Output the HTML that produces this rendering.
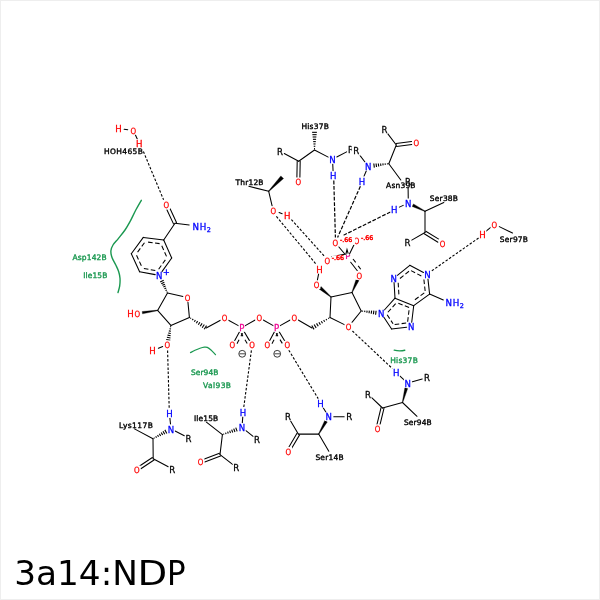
<!DOCTYPE html>
<html lang="en"><head><meta charset="utf-8"><title>3a14:NDP</title>
<style>
html,body{margin:0;padding:0;background:#fff;width:600px;height:600px;overflow:hidden}
svg{display:block;will-change:transform}
svg text{font-family:"DejaVu Sans", "Liberation Sans", sans-serif;white-space:pre}
</style></head><body>
<svg width="600" height="600" viewBox="0 0 600 600" font-family='"DejaVu Sans", "Liberation Sans", sans-serif'>
<rect x="0.5" y="0.5" width="599" height="599" fill="#fff" stroke="#eeeeee" stroke-width="1"/>
<g><path d="M141.3,200.3 C140.38,201.92 137.68,206.43 135.8,210 C133.92,213.57 131.8,218.37 130,221.7 C128.2,225.03 126.95,227.18 125,230 C123.05,232.82 120.3,236.1 118.3,238.6 C116.3,241.1 114.23,242.97 113,245 C111.77,247.03 111.07,248.72 110.9,250.8 C110.73,252.88 111.18,255.13 112,257.5 C112.82,259.87 114.68,262.63 115.8,265 C116.92,267.37 118,269.48 118.7,271.7 C119.4,273.92 119.83,275.95 120,278.3 C120.17,280.65 120.03,283.43 119.7,285.8 C119.37,288.17 118.28,291.38 118,292.5" fill="none" stroke="#1a9850" stroke-width="1.4" stroke-linecap="round"/>
<path d="M190.5,352.6 C191.25,352.22 193.42,351.02 195,350.3 C196.58,349.58 198.45,348.82 200,348.3 C201.55,347.78 203.08,347.35 204.3,347.2 C205.52,347.05 206.18,346.93 207.3,347.4 C208.42,347.87 209.63,348.78 211,350 C212.37,351.22 214.75,353.92 215.5,354.7" fill="none" stroke="#1a9850" stroke-width="1.2" stroke-linecap="round"/>
<path d="M394.2,350.1 Q399.6,351.6 404.8,350.2" fill="none" stroke="#1a9850" stroke-width="1.4" stroke-linecap="round"/></g>
<g><line x1="176.5" y1="222.5" x2="170" y2="208.54" stroke="#000000" stroke-width="1.05" stroke-linecap="round"/>
<line x1="173.5" y1="223.9" x2="167.01" y2="209.93" stroke="#000000" stroke-width="1.05" stroke-linecap="round"/>
<line x1="175" y1="223.2" x2="189.2" y2="225" stroke="#000000" stroke-width="1.05" stroke-linecap="round"/>
<line x1="175" y1="223.2" x2="163.7" y2="240" stroke="#000000" stroke-width="1.05" stroke-linecap="round"/>
<line x1="163.7" y1="240" x2="143.3" y2="237.4" stroke="#000000" stroke-width="1.05" stroke-linecap="round"/>
<line x1="159.61" y1="243.61" x2="146.35" y2="241.92" stroke="#000000" stroke-width="1.05" stroke-linecap="butt" stroke-dasharray="4.6,2.4"/>
<line x1="143.3" y1="237.4" x2="131.3" y2="253.7" stroke="#000000" stroke-width="1.05" stroke-linecap="round"/>
<line x1="144.47" y1="242.73" x2="136.74" y2="253.23" stroke="#000000" stroke-width="1.05" stroke-linecap="butt" stroke-dasharray="4.6,2.4"/>
<line x1="131.3" y1="253.7" x2="139.6" y2="271.8" stroke="#000000" stroke-width="1.05" stroke-linecap="round"/>
<line x1="136.53" y1="255.26" x2="141.83" y2="266.82" stroke="#000000" stroke-width="1.05" stroke-linecap="butt" stroke-dasharray="4.6,2.4"/>
<line x1="139.6" y1="271.8" x2="155.17" y2="274.64" stroke="#000000" stroke-width="1.05" stroke-linecap="round"/>
<line x1="143.88" y1="268.41" x2="155.91" y2="270.61" stroke="#000000" stroke-width="1.05" stroke-linecap="butt" stroke-dasharray="4.6,2.4"/>
<line x1="161.97" y1="271.65" x2="171.7" y2="258" stroke="#000000" stroke-width="1.05" stroke-linecap="round"/>
<line x1="158.63" y1="269.27" x2="166.27" y2="258.55" stroke="#000000" stroke-width="1.05" stroke-linecap="butt" stroke-dasharray="4.6,2.4"/>
<line x1="171.7" y1="258" x2="163.7" y2="240" stroke="#000000" stroke-width="1.05" stroke-linecap="round"/>
<line x1="166.49" y1="256.38" x2="161.42" y2="244.95" stroke="#000000" stroke-width="1.05" stroke-linecap="butt" stroke-dasharray="4.6,2.4"/>
<line x1="167.44" y1="291.8" x2="166.55" y2="292.22" stroke="#000000" stroke-width="1.1" stroke-linecap="butt"/>
<line x1="166.82" y1="289.89" x2="165.49" y2="290.5" stroke="#000000" stroke-width="1.1" stroke-linecap="butt"/>
<line x1="166.2" y1="287.97" x2="164.43" y2="288.79" stroke="#000000" stroke-width="1.1" stroke-linecap="butt"/>
<line x1="165.58" y1="286.05" x2="163.37" y2="287.08" stroke="#000000" stroke-width="1.1" stroke-linecap="butt"/>
<line x1="164.95" y1="284.13" x2="162.31" y2="285.36" stroke="#000000" stroke-width="1.1" stroke-linecap="butt"/>
<line x1="164.33" y1="282.22" x2="161.25" y2="283.65" stroke="#000000" stroke-width="1.1" stroke-linecap="butt"/>
<line x1="163.71" y1="280.3" x2="160.19" y2="281.93" stroke="#000000" stroke-width="1.1" stroke-linecap="butt"/>
<line x1="167.5" y1="293.1" x2="183.01" y2="296.51" stroke="#000000" stroke-width="1.05" stroke-linecap="round"/>
<line x1="187.94" y1="302.08" x2="189.4" y2="317.4" stroke="#000000" stroke-width="1.05" stroke-linecap="round"/>
<line x1="189.4" y1="317.4" x2="170.9" y2="325.4" stroke="#000000" stroke-width="1.05" stroke-linecap="round"/>
<line x1="170.9" y1="325.4" x2="157.6" y2="310.4" stroke="#000000" stroke-width="1.05" stroke-linecap="round"/>
<line x1="157.6" y1="310.4" x2="167.5" y2="293.1" stroke="#000000" stroke-width="1.05" stroke-linecap="round"/>
<polygon points="157.56,310.1 142.17,311.47 142.52,313.86 157.64,310.7" fill="#000" stroke="#000" stroke-width="0.3" stroke-linejoin="round"/>
<line x1="170.16" y1="326.62" x2="171.16" y2="326.8" stroke="#000000" stroke-width="1.1" stroke-linecap="butt"/>
<line x1="169.51" y1="328.75" x2="171.03" y2="329.03" stroke="#000000" stroke-width="1.1" stroke-linecap="butt"/>
<line x1="168.86" y1="330.89" x2="170.9" y2="331.25" stroke="#000000" stroke-width="1.1" stroke-linecap="butt"/>
<line x1="168.2" y1="333.02" x2="170.76" y2="333.48" stroke="#000000" stroke-width="1.1" stroke-linecap="butt"/>
<line x1="167.55" y1="335.15" x2="170.63" y2="335.71" stroke="#000000" stroke-width="1.1" stroke-linecap="butt"/>
<line x1="166.9" y1="337.29" x2="170.5" y2="337.94" stroke="#000000" stroke-width="1.1" stroke-linecap="butt"/>
<line x1="166.24" y1="339.42" x2="170.36" y2="340.17" stroke="#000000" stroke-width="1.1" stroke-linecap="butt"/>
<line x1="162.72" y1="346.57" x2="158.4" y2="348.21" stroke="#000000" stroke-width="1.05" stroke-linecap="round"/>
<line x1="190.4" y1="318.61" x2="190.92" y2="317.78" stroke="#000000" stroke-width="1.1" stroke-linecap="butt"/>
<line x1="192.37" y1="320.15" x2="193.15" y2="318.89" stroke="#000000" stroke-width="1.1" stroke-linecap="butt"/>
<line x1="194.34" y1="321.68" x2="195.38" y2="320.01" stroke="#000000" stroke-width="1.1" stroke-linecap="butt"/>
<line x1="196.3" y1="323.21" x2="197.62" y2="321.13" stroke="#000000" stroke-width="1.1" stroke-linecap="butt"/>
<line x1="198.27" y1="324.74" x2="199.85" y2="322.25" stroke="#000000" stroke-width="1.1" stroke-linecap="butt"/>
<line x1="200.24" y1="326.27" x2="202.08" y2="323.37" stroke="#000000" stroke-width="1.1" stroke-linecap="butt"/>
<line x1="202.21" y1="327.8" x2="204.31" y2="324.49" stroke="#000000" stroke-width="1.1" stroke-linecap="butt"/>
<line x1="204.18" y1="329.33" x2="206.54" y2="325.61" stroke="#000000" stroke-width="1.1" stroke-linecap="butt"/>
<line x1="206.2" y1="328" x2="220.46" y2="320.21" stroke="#000000" stroke-width="1.05" stroke-linecap="round"/>
<line x1="228.52" y1="320.23" x2="238.3" y2="325.66" stroke="#000000" stroke-width="1.05" stroke-linecap="round"/>
<line x1="239.8" y1="331.29" x2="234.49" y2="341.06" stroke="#000000" stroke-width="1.05" stroke-linecap="round"/>
<line x1="242.59" y1="333.26" x2="240.97" y2="336.25" stroke="#000000" stroke-width="1.05" stroke-linecap="butt"/>
<line x1="239.06" y1="339.77" x2="236.96" y2="343.64" stroke="#000000" stroke-width="1.05" stroke-linecap="butt"/>
<line x1="243.93" y1="331.22" x2="249.77" y2="341.14" stroke="#000000" stroke-width="1.05" stroke-linecap="round"/>
<line x1="241.2" y1="333.29" x2="242.93" y2="336.22" stroke="#000000" stroke-width="1.05" stroke-linecap="butt"/>
<line x1="244.96" y1="339.67" x2="247.19" y2="343.46" stroke="#000000" stroke-width="1.05" stroke-linecap="butt"/>
<line x1="245.28" y1="325.62" x2="255.2" y2="319.97" stroke="#000000" stroke-width="1.05" stroke-linecap="round"/>
<line x1="263.2" y1="319.96" x2="273.22" y2="325.63" stroke="#000000" stroke-width="1.05" stroke-linecap="round"/>
<line x1="274.71" y1="331.3" x2="269.48" y2="341.05" stroke="#000000" stroke-width="1.05" stroke-linecap="round"/>
<line x1="277.52" y1="333.26" x2="275.91" y2="336.26" stroke="#000000" stroke-width="1.05" stroke-linecap="butt"/>
<line x1="274.02" y1="339.78" x2="271.93" y2="343.66" stroke="#000000" stroke-width="1.05" stroke-linecap="butt"/>
<line x1="278.88" y1="331.19" x2="284.92" y2="341.17" stroke="#000000" stroke-width="1.05" stroke-linecap="round"/>
<line x1="276.18" y1="333.3" x2="277.94" y2="336.2" stroke="#000000" stroke-width="1.05" stroke-linecap="butt"/>
<line x1="280.01" y1="339.63" x2="282.29" y2="343.39" stroke="#000000" stroke-width="1.05" stroke-linecap="butt"/>
<line x1="280.18" y1="325.63" x2="290.2" y2="319.96" stroke="#000000" stroke-width="1.05" stroke-linecap="round"/>
<line x1="298.18" y1="320" x2="312" y2="328" stroke="#000000" stroke-width="1.05" stroke-linecap="round"/>
<line x1="328.4" y1="317.86" x2="328.9" y2="318.72" stroke="#000000" stroke-width="1.1" stroke-linecap="butt"/>
<line x1="326.03" y1="318.96" x2="326.77" y2="320.24" stroke="#000000" stroke-width="1.1" stroke-linecap="butt"/>
<line x1="323.65" y1="320.06" x2="324.65" y2="321.76" stroke="#000000" stroke-width="1.1" stroke-linecap="butt"/>
<line x1="321.28" y1="321.16" x2="322.52" y2="323.29" stroke="#000000" stroke-width="1.1" stroke-linecap="butt"/>
<line x1="318.91" y1="322.27" x2="320.39" y2="324.81" stroke="#000000" stroke-width="1.1" stroke-linecap="butt"/>
<line x1="316.54" y1="323.37" x2="318.26" y2="326.33" stroke="#000000" stroke-width="1.1" stroke-linecap="butt"/>
<line x1="314.16" y1="324.47" x2="316.14" y2="327.85" stroke="#000000" stroke-width="1.1" stroke-linecap="butt"/>
<line x1="311.79" y1="325.57" x2="314.01" y2="329.38" stroke="#000000" stroke-width="1.1" stroke-linecap="butt"/>
<line x1="330" y1="317.5" x2="331" y2="297" stroke="#000000" stroke-width="1.05" stroke-linecap="round"/>
<line x1="331" y1="297" x2="352" y2="292.5" stroke="#000000" stroke-width="1.05" stroke-linecap="round"/>
<line x1="352" y1="292.5" x2="361.2" y2="311" stroke="#000000" stroke-width="1.05" stroke-linecap="round"/>
<line x1="361.2" y1="311" x2="351.39" y2="323.12" stroke="#000000" stroke-width="1.05" stroke-linecap="round"/>
<line x1="344.38" y1="324.65" x2="330" y2="317.5" stroke="#000000" stroke-width="1.05" stroke-linecap="round"/>
<polygon points="331.19,296.77 321.04,286.46 318.98,288.89 330.81,297.23" fill="#000" stroke="#000" stroke-width="0.3" stroke-linejoin="round"/>
<line x1="317.38" y1="280.18" x2="318.62" y2="273.82" stroke="#000000" stroke-width="1.05" stroke-linecap="round"/>
<polygon points="352.27,292.62 359,280.45 356.11,279.18 351.73,292.38" fill="#000" stroke="#000" stroke-width="0.3" stroke-linejoin="round"/>
<line x1="350.7" y1="262.2" x2="357.3" y2="270.7" stroke="#000000" stroke-width="1.05" stroke-linecap="round"/>
<line x1="353" y1="259" x2="355.7" y2="262.4" stroke="#000000" stroke-width="1.05" stroke-linecap="butt"/>
<line x1="358.2" y1="265.9" x2="360.7" y2="269.3" stroke="#000000" stroke-width="1.05" stroke-linecap="butt"/>
<line x1="362.47" y1="311.66" x2="362.59" y2="310.66" stroke="#000000" stroke-width="1.1" stroke-linecap="butt"/>
<line x1="364.66" y1="312.18" x2="364.84" y2="310.66" stroke="#000000" stroke-width="1.1" stroke-linecap="butt"/>
<line x1="366.85" y1="312.71" x2="367.09" y2="310.67" stroke="#000000" stroke-width="1.1" stroke-linecap="butt"/>
<line x1="369.04" y1="313.23" x2="369.34" y2="310.68" stroke="#000000" stroke-width="1.1" stroke-linecap="butt"/>
<line x1="371.22" y1="313.75" x2="371.59" y2="310.69" stroke="#000000" stroke-width="1.1" stroke-linecap="butt"/>
<line x1="373.41" y1="314.27" x2="373.84" y2="310.69" stroke="#000000" stroke-width="1.1" stroke-linecap="butt"/>
<line x1="375.6" y1="314.8" x2="376.09" y2="310.7" stroke="#000000" stroke-width="1.1" stroke-linecap="butt"/>
<line x1="383.72" y1="317.07" x2="391.6" y2="329" stroke="#000000" stroke-width="1.05" stroke-linecap="round"/>
<line x1="387.15" y1="314.81" x2="393.04" y2="323.74" stroke="#000000" stroke-width="1.05" stroke-linecap="butt" stroke-dasharray="4.6,2.4"/>
<line x1="391.6" y1="329" x2="406.63" y2="327.16" stroke="#000000" stroke-width="1.05" stroke-linecap="round"/>
<line x1="394.67" y1="324.49" x2="406.14" y2="323.09" stroke="#000000" stroke-width="1.05" stroke-linecap="butt" stroke-dasharray="4.6,2.4"/>
<line x1="411.72" y1="322.23" x2="413.7" y2="305.7" stroke="#000000" stroke-width="1.05" stroke-linecap="round"/>
<line x1="407.65" y1="321.74" x2="409.2" y2="308.79" stroke="#000000" stroke-width="1.05" stroke-linecap="butt" stroke-dasharray="4.6,2.4"/>
<line x1="413.7" y1="305.7" x2="395" y2="298.2" stroke="#000000" stroke-width="1.05" stroke-linecap="round"/>
<line x1="409.09" y1="307.52" x2="397.08" y2="302.7" stroke="#000000" stroke-width="1.05" stroke-linecap="butt" stroke-dasharray="4.6,2.4"/>
<line x1="395" y1="298.2" x2="384.38" y2="309.98" stroke="#000000" stroke-width="1.05" stroke-linecap="round"/>
<line x1="395.64" y1="303.62" x2="387.43" y2="312.73" stroke="#000000" stroke-width="1.05" stroke-linecap="butt" stroke-dasharray="4.6,2.4"/>
<line x1="395" y1="298.2" x2="394.06" y2="282.59" stroke="#000000" stroke-width="1.05" stroke-linecap="round"/>
<line x1="398.88" y1="294.36" x2="398.16" y2="282.35" stroke="#000000" stroke-width="1.05" stroke-linecap="butt" stroke-dasharray="4.6,2.4"/>
<line x1="397.38" y1="275.31" x2="409.8" y2="265.3" stroke="#000000" stroke-width="1.05" stroke-linecap="round"/>
<line x1="399.95" y1="278.5" x2="409.57" y2="270.75" stroke="#000000" stroke-width="1.05" stroke-linecap="butt" stroke-dasharray="4.6,2.4"/>
<line x1="409.8" y1="265.3" x2="423.44" y2="272.54" stroke="#000000" stroke-width="1.05" stroke-linecap="round"/>
<line x1="411.06" y1="270.61" x2="421.51" y2="276.16" stroke="#000000" stroke-width="1.05" stroke-linecap="butt" stroke-dasharray="4.6,2.4"/>
<line x1="427.97" y1="279.07" x2="429.6" y2="294.1" stroke="#000000" stroke-width="1.05" stroke-linecap="round"/>
<line x1="423.9" y1="279.52" x2="425.14" y2="290.96" stroke="#000000" stroke-width="1.05" stroke-linecap="butt" stroke-dasharray="4.6,2.4"/>
<line x1="429.6" y1="294.1" x2="413.7" y2="305.7" stroke="#000000" stroke-width="1.05" stroke-linecap="round"/>
<line x1="424.28" y1="292.91" x2="414.19" y2="300.27" stroke="#000000" stroke-width="1.05" stroke-linecap="butt" stroke-dasharray="4.6,2.4"/>
<line x1="429.6" y1="294.1" x2="443.34" y2="299.9" stroke="#000000" stroke-width="1.05" stroke-linecap="round"/>
<line x1="124.15" y1="129.25" x2="127.75" y2="129.75" stroke="#000000" stroke-width="1.05" stroke-linecap="round"/>
<line x1="134.74" y1="133.58" x2="137.6" y2="139.68" stroke="#000000" stroke-width="1.05" stroke-linecap="round"/>
<line x1="169.88" y1="418.17" x2="170.52" y2="424.23" stroke="#000000" stroke-width="1.05" stroke-linecap="round"/>
<line x1="154.41" y1="438.5" x2="153.93" y2="437.62" stroke="#000000" stroke-width="1.1" stroke-linecap="butt"/>
<line x1="156.48" y1="437.65" x2="155.75" y2="436.33" stroke="#000000" stroke-width="1.1" stroke-linecap="butt"/>
<line x1="158.55" y1="436.8" x2="157.57" y2="435.03" stroke="#000000" stroke-width="1.1" stroke-linecap="butt"/>
<line x1="160.61" y1="435.96" x2="159.39" y2="433.74" stroke="#000000" stroke-width="1.1" stroke-linecap="butt"/>
<line x1="162.68" y1="435.11" x2="161.22" y2="432.45" stroke="#000000" stroke-width="1.1" stroke-linecap="butt"/>
<line x1="164.75" y1="434.26" x2="163.04" y2="431.15" stroke="#000000" stroke-width="1.1" stroke-linecap="butt"/>
<line x1="166.82" y1="433.41" x2="164.86" y2="429.86" stroke="#000000" stroke-width="1.1" stroke-linecap="butt"/>
<line x1="175.08" y1="430.93" x2="184.32" y2="435.77" stroke="#000000" stroke-width="1.05" stroke-linecap="round"/>
<line x1="134.5" y1="428.9" x2="153" y2="438.7" stroke="#000000" stroke-width="1.05" stroke-linecap="round"/>
<line x1="153" y1="438.7" x2="153.2" y2="458.7" stroke="#000000" stroke-width="1.05" stroke-linecap="round"/>
<line x1="152.37" y1="457.45" x2="139.2" y2="466.23" stroke="#000000" stroke-width="1.05" stroke-linecap="round"/>
<line x1="154.03" y1="459.95" x2="140.86" y2="468.73" stroke="#000000" stroke-width="1.05" stroke-linecap="round"/>
<line x1="153.2" y1="458.7" x2="168.25" y2="466.82" stroke="#000000" stroke-width="1.05" stroke-linecap="round"/>
<line x1="242.77" y1="416.89" x2="242.33" y2="422.91" stroke="#000000" stroke-width="1.05" stroke-linecap="round"/>
<line x1="223.85" y1="434.61" x2="223.51" y2="433.66" stroke="#000000" stroke-width="1.1" stroke-linecap="butt"/>
<line x1="226.06" y1="434.08" x2="225.55" y2="432.65" stroke="#000000" stroke-width="1.1" stroke-linecap="butt"/>
<line x1="228.28" y1="433.55" x2="227.59" y2="431.64" stroke="#000000" stroke-width="1.1" stroke-linecap="butt"/>
<line x1="230.49" y1="433.02" x2="229.63" y2="430.63" stroke="#000000" stroke-width="1.1" stroke-linecap="butt"/>
<line x1="232.71" y1="432.49" x2="231.67" y2="429.62" stroke="#000000" stroke-width="1.1" stroke-linecap="butt"/>
<line x1="234.93" y1="431.96" x2="233.71" y2="428.61" stroke="#000000" stroke-width="1.1" stroke-linecap="butt"/>
<line x1="237.14" y1="431.42" x2="235.75" y2="427.6" stroke="#000000" stroke-width="1.1" stroke-linecap="butt"/>
<line x1="245.6" y1="430.36" x2="253.4" y2="436.54" stroke="#000000" stroke-width="1.05" stroke-linecap="round"/>
<line x1="206.4" y1="422.2" x2="222.4" y2="434.6" stroke="#000000" stroke-width="1.05" stroke-linecap="round"/>
<line x1="222.4" y1="434.6" x2="220" y2="454.6" stroke="#000000" stroke-width="1.05" stroke-linecap="round"/>
<line x1="219.47" y1="453.2" x2="203.71" y2="459.18" stroke="#000000" stroke-width="1.05" stroke-linecap="round"/>
<line x1="220.53" y1="456" x2="204.77" y2="461.98" stroke="#000000" stroke-width="1.05" stroke-linecap="round"/>
<line x1="220" y1="454.6" x2="232.58" y2="464.46" stroke="#000000" stroke-width="1.05" stroke-linecap="round"/>
<line x1="323.07" y1="407.51" x2="326.13" y2="412.59" stroke="#000000" stroke-width="1.05" stroke-linecap="round"/>
<polygon points="318.96,434.25 327.32,421.95 324.74,420.49 318.44,433.95" fill="#000" stroke="#000" stroke-width="0.3" stroke-linejoin="round"/>
<line x1="333.8" y1="416.7" x2="344.2" y2="416.7" stroke="#000000" stroke-width="1.05" stroke-linecap="round"/>
<line x1="318.7" y1="434.1" x2="298.3" y2="434.1" stroke="#000000" stroke-width="1.05" stroke-linecap="round"/>
<line x1="318.7" y1="434.1" x2="328.8" y2="451.3" stroke="#000000" stroke-width="1.05" stroke-linecap="round"/>
<line x1="297.01" y1="433.34" x2="288.94" y2="446.99" stroke="#000000" stroke-width="1.05" stroke-linecap="round"/>
<line x1="299.59" y1="434.86" x2="291.53" y2="448.52" stroke="#000000" stroke-width="1.05" stroke-linecap="round"/>
<line x1="298.3" y1="434.1" x2="290.33" y2="420.56" stroke="#000000" stroke-width="1.05" stroke-linecap="round"/>
<line x1="399.7" y1="375.78" x2="404.1" y2="379.92" stroke="#000000" stroke-width="1.05" stroke-linecap="round"/>
<polygon points="402.79,402.58 407.7,388.61 404.84,387.85 402.21,402.42" fill="#000" stroke="#000" stroke-width="0.3" stroke-linejoin="round"/>
<line x1="412.4" y1="381.81" x2="422.2" y2="378.99" stroke="#000000" stroke-width="1.05" stroke-linecap="round"/>
<line x1="402.5" y1="402.5" x2="382.5" y2="408" stroke="#000000" stroke-width="1.05" stroke-linecap="round"/>
<line x1="402.5" y1="402.5" x2="417" y2="416.3" stroke="#000000" stroke-width="1.05" stroke-linecap="round"/>
<line x1="381.04" y1="407.65" x2="376.98" y2="424.46" stroke="#000000" stroke-width="1.05" stroke-linecap="round"/>
<line x1="383.96" y1="408.35" x2="379.9" y2="425.16" stroke="#000000" stroke-width="1.05" stroke-linecap="round"/>
<line x1="382.5" y1="408" x2="371.41" y2="397.29" stroke="#000000" stroke-width="1.05" stroke-linecap="round"/>
<line x1="315.01" y1="148.6" x2="313.99" y2="148.6" stroke="#000000" stroke-width="1.1" stroke-linecap="butt"/>
<line x1="315.28" y1="146.28" x2="313.72" y2="146.28" stroke="#000000" stroke-width="1.1" stroke-linecap="butt"/>
<line x1="315.55" y1="143.96" x2="313.45" y2="143.96" stroke="#000000" stroke-width="1.1" stroke-linecap="butt"/>
<line x1="315.82" y1="141.63" x2="313.18" y2="141.63" stroke="#000000" stroke-width="1.1" stroke-linecap="butt"/>
<line x1="316.09" y1="139.31" x2="312.91" y2="139.31" stroke="#000000" stroke-width="1.1" stroke-linecap="butt"/>
<line x1="316.36" y1="136.98" x2="312.64" y2="136.98" stroke="#000000" stroke-width="1.1" stroke-linecap="butt"/>
<line x1="316.62" y1="134.66" x2="312.38" y2="134.66" stroke="#000000" stroke-width="1.1" stroke-linecap="butt"/>
<line x1="316.89" y1="132.33" x2="312.11" y2="132.33" stroke="#000000" stroke-width="1.1" stroke-linecap="butt"/>
<line x1="314.5" y1="150" x2="328.24" y2="157.1" stroke="#000000" stroke-width="1.05" stroke-linecap="round"/>
<line x1="332.74" y1="164.09" x2="333.06" y2="170.81" stroke="#000000" stroke-width="1.05" stroke-linecap="round"/>
<line x1="336.75" y1="157.06" x2="346.65" y2="151.84" stroke="#000000" stroke-width="1.05" stroke-linecap="round"/>
<line x1="314.5" y1="150" x2="298.7" y2="161.3" stroke="#000000" stroke-width="1.05" stroke-linecap="round"/>
<line x1="297.2" y1="161.27" x2="296.89" y2="177.37" stroke="#000000" stroke-width="1.05" stroke-linecap="round"/>
<line x1="300.2" y1="161.33" x2="299.89" y2="177.43" stroke="#000000" stroke-width="1.05" stroke-linecap="round"/>
<line x1="298.7" y1="161.3" x2="284.23" y2="153.56" stroke="#000000" stroke-width="1.05" stroke-linecap="round"/>
<line x1="358.97" y1="154.07" x2="365.31" y2="162.47" stroke="#000000" stroke-width="1.05" stroke-linecap="round"/>
<line x1="366.34" y1="170.72" x2="363.96" y2="176.38" stroke="#000000" stroke-width="1.05" stroke-linecap="round"/>
<line x1="387.4" y1="163.37" x2="387.52" y2="164.37" stroke="#000000" stroke-width="1.1" stroke-linecap="butt"/>
<line x1="385.13" y1="163.4" x2="385.32" y2="164.9" stroke="#000000" stroke-width="1.1" stroke-linecap="butt"/>
<line x1="382.86" y1="163.43" x2="383.12" y2="165.44" stroke="#000000" stroke-width="1.1" stroke-linecap="butt"/>
<line x1="380.6" y1="163.46" x2="380.92" y2="165.97" stroke="#000000" stroke-width="1.1" stroke-linecap="butt"/>
<line x1="378.33" y1="163.49" x2="378.71" y2="166.51" stroke="#000000" stroke-width="1.1" stroke-linecap="butt"/>
<line x1="376.07" y1="163.52" x2="376.51" y2="167.04" stroke="#000000" stroke-width="1.1" stroke-linecap="butt"/>
<line x1="373.8" y1="163.54" x2="374.31" y2="167.58" stroke="#000000" stroke-width="1.1" stroke-linecap="butt"/>
<line x1="388.8" y1="163.7" x2="396.3" y2="145" stroke="#000000" stroke-width="1.05" stroke-linecap="round"/>
<line x1="396.49" y1="146.49" x2="411.92" y2="144.56" stroke="#000000" stroke-width="1.05" stroke-linecap="round"/>
<line x1="396.11" y1="143.51" x2="411.55" y2="141.58" stroke="#000000" stroke-width="1.05" stroke-linecap="round"/>
<line x1="396.3" y1="145" x2="387.29" y2="133.16" stroke="#000000" stroke-width="1.05" stroke-linecap="round"/>
<line x1="388.8" y1="163.7" x2="400.8" y2="180" stroke="#000000" stroke-width="1.05" stroke-linecap="round"/>
<line x1="408.1" y1="187.9" x2="408.24" y2="198.2" stroke="#000000" stroke-width="1.05" stroke-linecap="round"/>
<line x1="403.22" y1="205.36" x2="399.38" y2="207.14" stroke="#000000" stroke-width="1.05" stroke-linecap="round"/>
<polygon points="425.13,210.93 413.43,203.89 412.14,206.52 424.87,211.47" fill="#000" stroke="#000" stroke-width="0.3" stroke-linejoin="round"/>
<line x1="425" y1="211.2" x2="443.8" y2="202.5" stroke="#000000" stroke-width="1.05" stroke-linecap="round"/>
<line x1="425" y1="211.2" x2="425" y2="232.5" stroke="#000000" stroke-width="1.05" stroke-linecap="round"/>
<line x1="424.22" y1="233.78" x2="437.96" y2="242.18" stroke="#000000" stroke-width="1.05" stroke-linecap="round"/>
<line x1="425.78" y1="231.22" x2="439.53" y2="239.63" stroke="#000000" stroke-width="1.05" stroke-linecap="round"/>
<line x1="425" y1="232.5" x2="411.76" y2="240.11" stroke="#000000" stroke-width="1.05" stroke-linecap="round"/>
<line x1="248.8" y1="186.3" x2="268.7" y2="191.3" stroke="#000000" stroke-width="1.05" stroke-linecap="round"/>
<polygon points="268.92,191.51 283.57,178.51 280.83,175.89 268.48,191.09" fill="#000" stroke="#000" stroke-width="0.3" stroke-linejoin="round"/>
<line x1="268.7" y1="191.3" x2="272.11" y2="205.93" stroke="#000000" stroke-width="1.05" stroke-linecap="round"/>
<line x1="279.07" y1="212.6" x2="282.19" y2="213.66" stroke="#000000" stroke-width="1.05" stroke-linecap="round"/>
<line x1="486.15" y1="231.08" x2="490.69" y2="227.35" stroke="#000000" stroke-width="1.05" stroke-linecap="round"/>
<line x1="499.27" y1="226.64" x2="512.5" y2="233" stroke="#000000" stroke-width="1.05" stroke-linecap="round"/></g>
<g><line x1="143.4" y1="151.5" x2="163.6" y2="199.8" stroke="#000000" stroke-width="1.1" stroke-linecap="butt" stroke-dasharray="2.5,1.7"/>
<line x1="167.6" y1="350.6" x2="169.2" y2="408.4" stroke="#000000" stroke-width="1.1" stroke-linecap="butt" stroke-dasharray="2.5,1.7"/>
<line x1="251.4" y1="350.4" x2="243.8" y2="407" stroke="#000000" stroke-width="1.1" stroke-linecap="butt" stroke-dasharray="2.5,1.7"/>
<line x1="288.8" y1="350.2" x2="318.2" y2="398.6" stroke="#000000" stroke-width="1.1" stroke-linecap="butt" stroke-dasharray="2.5,1.7"/>
<line x1="352.4" y1="331" x2="392.4" y2="368.6" stroke="#000000" stroke-width="1.1" stroke-linecap="butt" stroke-dasharray="2.5,1.7"/>
<line x1="333.8" y1="180.6" x2="335.4" y2="237.4" stroke="#000000" stroke-width="1.2" stroke-linecap="butt" stroke-dasharray="3.8,1.6"/>
<line x1="360.4" y1="186.2" x2="337.6" y2="237.4" stroke="#000000" stroke-width="1.2" stroke-linecap="butt" stroke-dasharray="3.8,1.6"/>
<line x1="390.4" y1="212" x2="343.6" y2="235.2" stroke="#000000" stroke-width="1.2" stroke-linecap="butt" stroke-dasharray="3.8,1.6"/>
<line x1="276.4" y1="216.4" x2="316.6" y2="264.8" stroke="#000000" stroke-width="1.1" stroke-linecap="butt" stroke-dasharray="2.5,1.7"/>
<line x1="291.4" y1="219.6" x2="324.6" y2="256.4" stroke="#000000" stroke-width="1.1" stroke-linecap="butt" stroke-dasharray="2.5,1.7"/>
<line x1="478.6" y1="238" x2="431.8" y2="270.8" stroke="#000000" stroke-width="1.1" stroke-linecap="butt" stroke-dasharray="2.5,1.7"/></g>
<g><rect x="162.52" y="200.43" width="7.77" height="8.54" fill="#fff"/>
<text x="166.4" y="208.04" font-size="8.6" fill="#ff0000" stroke="#ff0000" stroke-width="0.27" text-anchor="middle" transform="translate(166.4 0) scale(0.83 1) translate(-166.4 0)">O</text>
<text x="192.6" y="230.3" font-size="8.7" fill="#0000ff" stroke="#0000ff" stroke-width="0.3" text-anchor="start" letter-spacing="0.6">NH<tspan font-size="6.5" dy="1.8">2</tspan></text>
<rect x="156.28" y="271.83" width="6.03" height="7.14" fill="#fff"/>
<text x="159.3" y="279.14" font-size="8.6" fill="#0000ff" stroke="#0000ff" stroke-width="0.27" text-anchor="middle">N</text>
<text x="163" y="275.4" font-size="8" fill="#0000ff" stroke="#0000ff" stroke-width="0.4" text-anchor="start" letter-spacing="0.3">+</text>
<rect x="183.62" y="293.23" width="7.77" height="8.54" fill="#fff"/>
<text x="187.5" y="300.84" font-size="8.6" fill="#ff0000" stroke="#ff0000" stroke-width="0.27" text-anchor="middle" transform="translate(187.5 0) scale(0.83 1) translate(-187.5 0)">O</text>
<rect x="133.92" y="309.53" width="6.97" height="7.74" fill="#fff"/>
<text x="137.4" y="316.74" font-size="8.6" fill="#ff0000" stroke="#ff0000" stroke-width="0.27" text-anchor="middle" transform="translate(137.4 0) scale(0.83 1) translate(-137.4 0)">O</text>
<rect x="126.67" y="309.13" width="7.47" height="8.54" fill="#fff"/>
<text x="130.4" y="317.14" font-size="8.6" fill="#ff0000" stroke="#ff0000" stroke-width="0.27" text-anchor="middle">H</text>
<rect x="163.52" y="340.53" width="7.77" height="8.54" fill="#fff"/>
<text x="167.4" y="348.14" font-size="8.6" fill="#ff0000" stroke="#ff0000" stroke-width="0.27" text-anchor="middle" transform="translate(167.4 0) scale(0.83 1) translate(-167.4 0)">O</text>
<rect x="148.87" y="346.13" width="7.47" height="8.54" fill="#fff"/>
<text x="152.6" y="354.14" font-size="8.6" fill="#ff0000" stroke="#ff0000" stroke-width="0.27" text-anchor="middle">H</text>
<rect x="220.62" y="313.73" width="7.77" height="8.54" fill="#fff"/>
<text x="224.5" y="321.34" font-size="8.6" fill="#ff0000" stroke="#ff0000" stroke-width="0.27" text-anchor="middle" transform="translate(224.5 0) scale(0.83 1) translate(-224.5 0)">O</text>
<rect x="238.71" y="323.33" width="6.19" height="8.54" fill="#fff"/>
<text x="241.8" y="331.34" font-size="8.6" fill="#ee0090" stroke="#ee0090" stroke-width="0.27" text-anchor="middle">P</text>
<rect x="228.42" y="340.83" width="7.77" height="8.54" fill="#fff"/>
<text x="232.3" y="348.44" font-size="8.6" fill="#ff0000" stroke="#ff0000" stroke-width="0.27" text-anchor="middle" transform="translate(232.3 0) scale(0.83 1) translate(-232.3 0)">O</text>
<rect x="248.22" y="340.83" width="7.77" height="8.54" fill="#fff"/>
<text x="252.1" y="348.44" font-size="8.6" fill="#ff0000" stroke="#ff0000" stroke-width="0.27" text-anchor="middle" transform="translate(252.1 0) scale(0.83 1) translate(-252.1 0)">O</text>
<rect x="255.32" y="313.43" width="7.77" height="8.54" fill="#fff"/>
<text x="259.2" y="321.04" font-size="8.6" fill="#ff0000" stroke="#ff0000" stroke-width="0.27" text-anchor="middle" transform="translate(259.2 0) scale(0.83 1) translate(-259.2 0)">O</text>
<rect x="273.61" y="323.33" width="6.19" height="8.54" fill="#fff"/>
<text x="276.7" y="331.34" font-size="8.6" fill="#ee0090" stroke="#ee0090" stroke-width="0.27" text-anchor="middle">P</text>
<rect x="263.42" y="340.83" width="7.77" height="8.54" fill="#fff"/>
<text x="267.3" y="348.44" font-size="8.6" fill="#ff0000" stroke="#ff0000" stroke-width="0.27" text-anchor="middle" transform="translate(267.3 0) scale(0.83 1) translate(-267.3 0)">O</text>
<rect x="283.42" y="340.83" width="7.77" height="8.54" fill="#fff"/>
<text x="287.3" y="348.44" font-size="8.6" fill="#ff0000" stroke="#ff0000" stroke-width="0.27" text-anchor="middle" transform="translate(287.3 0) scale(0.83 1) translate(-287.3 0)">O</text>
<rect x="290.32" y="313.43" width="7.77" height="8.54" fill="#fff"/>
<text x="294.2" y="321.04" font-size="8.6" fill="#ff0000" stroke="#ff0000" stroke-width="0.27" text-anchor="middle" transform="translate(294.2 0) scale(0.83 1) translate(-294.2 0)">O</text>
<rect x="344.62" y="322.43" width="7.77" height="8.54" fill="#fff"/>
<text x="348.5" y="330.04" font-size="8.6" fill="#ff0000" stroke="#ff0000" stroke-width="0.27" text-anchor="middle" transform="translate(348.5 0) scale(0.83 1) translate(-348.5 0)">O</text>
<rect x="312.62" y="280.43" width="7.77" height="8.54" fill="#fff"/>
<text x="316.5" y="288.04" font-size="8.6" fill="#ff0000" stroke="#ff0000" stroke-width="0.27" text-anchor="middle" transform="translate(316.5 0) scale(0.83 1) translate(-316.5 0)">O</text>
<rect x="315.77" y="265.03" width="7.47" height="8.54" fill="#fff"/>
<text x="319.5" y="273.04" font-size="8.6" fill="#ff0000" stroke="#ff0000" stroke-width="0.27" text-anchor="middle">H</text>
<rect x="355.52" y="271.33" width="7.77" height="8.54" fill="#fff"/>
<text x="359.4" y="278.94" font-size="8.6" fill="#ff0000" stroke="#ff0000" stroke-width="0.27" text-anchor="middle" transform="translate(359.4 0) scale(0.83 1) translate(-359.4 0)">O</text>
<circle cx="242.2" cy="353.8" r="3.4" fill="none" stroke="#3a3a3a" stroke-width="1"/>
<line x1="239.3" y1="353.8" x2="245.1" y2="353.8" stroke="#444" stroke-width="1" stroke-linecap="butt"/>
<circle cx="277.2" cy="353.8" r="3.4" fill="none" stroke="#3a3a3a" stroke-width="1"/>
<line x1="274.3" y1="353.8" x2="280.1" y2="353.8" stroke="#444" stroke-width="1" stroke-linecap="butt"/>
<text x="347.9" y="259.44" font-size="8.6" fill="#ee0090" stroke="#ee0090" stroke-width="0.27" text-anchor="middle">P</text>
<rect x="344" y="248.5" width="8" height="6.4" fill="#fff"/>
<rect x="345" y="259.1" width="5.2" height="2.6" fill="#fff"/>
<line x1="338.5" y1="246.5" x2="344.8" y2="254" stroke="#000000" stroke-width="1.05" stroke-linecap="round"/>
<line x1="354" y1="244.8" x2="349.5" y2="254" stroke="#000000" stroke-width="1.05" stroke-linecap="round"/>
<polyline points="346,253.7 347,249.6 348.2,253.7" fill="none" stroke="#000" stroke-width="1.1" stroke-linejoin="miter"/>
<line x1="330.8" y1="256.7" x2="346.2" y2="254" stroke="#000000" stroke-width="1.05" stroke-linecap="round"/>
<rect x="323.52" y="256.03" width="7.77" height="8.54" fill="#fff"/>
<text x="327.4" y="263.64" font-size="8.6" fill="#ff0000" stroke="#ff0000" stroke-width="0.27" text-anchor="middle" transform="translate(327.4 0) scale(0.83 1) translate(-327.4 0)">O</text>
<rect x="331.6" y="255.3" width="13.2" height="6" fill="#fff"/>
<text x="331.8" y="260" font-size="6.3" fill="#ff0000" stroke="#ff0000" stroke-width="0.45" textLength="12.3" lengthAdjust="spacing">-.66</text>
<rect x="352.62" y="236.33" width="7.77" height="8.54" fill="#fff"/>
<text x="356.5" y="243.94" font-size="8.6" fill="#ff0000" stroke="#ff0000" stroke-width="0.27" text-anchor="middle" transform="translate(356.5 0) scale(0.83 1) translate(-356.5 0)">O</text>
<rect x="331.52" y="238.13" width="7.77" height="8.54" fill="#fff"/>
<text x="335.4" y="245.74" font-size="8.6" fill="#ff0000" stroke="#ff0000" stroke-width="0.27" text-anchor="middle" transform="translate(335.4 0) scale(0.83 1) translate(-335.4 0)">O</text>
<rect x="339.4" y="235.8" width="15.7" height="8" fill="#fff"/>
<text x="339.9" y="241.8" font-size="6.3" fill="#ff0000" stroke="#ff0000" stroke-width="0.45" textLength="12.3" lengthAdjust="spacing">-.66</text>
<text x="360.9" y="240" font-size="6.3" fill="#ff0000" stroke="#ff0000" stroke-width="0.45" textLength="12.3" lengthAdjust="spacing">-.66</text>
<rect x="378.28" y="309.83" width="6.03" height="7.14" fill="#fff"/>
<text x="381.3" y="317.14" font-size="8.6" fill="#0000ff" stroke="#0000ff" stroke-width="0.27" text-anchor="middle">N</text>
<rect x="408.18" y="323.03" width="6.03" height="7.14" fill="#fff"/>
<text x="411.2" y="330.34" font-size="8.6" fill="#0000ff" stroke="#0000ff" stroke-width="0.27" text-anchor="middle">N</text>
<rect x="390.78" y="274.63" width="6.03" height="7.14" fill="#fff"/>
<text x="393.8" y="281.94" font-size="8.6" fill="#0000ff" stroke="#0000ff" stroke-width="0.27" text-anchor="middle">N</text>
<rect x="424.48" y="271.13" width="6.03" height="7.14" fill="#fff"/>
<text x="427.5" y="278.44" font-size="8.6" fill="#0000ff" stroke="#0000ff" stroke-width="0.27" text-anchor="middle">N</text>
<rect x="445.1" y="299.11" width="18" height="8.26" fill="#fff"/>
<text x="445.6" y="305.9" font-size="8.7" fill="#0000ff" stroke="#0000ff" stroke-width="0.3" text-anchor="start" letter-spacing="0.6">NH<tspan font-size="6.5" dy="1.8">2</tspan></text>
<rect x="114.87" y="124.23" width="7.47" height="8.54" fill="#fff"/>
<text x="118.6" y="132.24" font-size="8.6" fill="#ff0000" stroke="#ff0000" stroke-width="0.27" text-anchor="middle">H</text>
<rect x="129.42" y="126.23" width="7.77" height="8.54" fill="#fff"/>
<text x="133.3" y="133.84" font-size="8.6" fill="#ff0000" stroke="#ff0000" stroke-width="0.27" text-anchor="middle" transform="translate(133.3 0) scale(0.83 1) translate(-133.3 0)">O</text>
<rect x="135.57" y="139.03" width="7.47" height="8.54" fill="#fff"/>
<text x="139.3" y="147.04" font-size="8.6" fill="#ff0000" stroke="#ff0000" stroke-width="0.27" text-anchor="middle">H</text>
<text x="104" y="154.3" font-size="7.5" fill="#000000" stroke="#000000" stroke-width="0.36" text-anchor="start" letter-spacing="0" textLength="38.8" lengthAdjust="spacing">HOH465B</text>
<rect x="165.67" y="409.33" width="7.47" height="8.54" fill="#fff"/>
<text x="169.4" y="417.34" font-size="8.6" fill="#0000ff" stroke="#0000ff" stroke-width="0.27" text-anchor="middle">H</text>
<rect x="167.28" y="424.53" width="7.43" height="8.54" fill="#fff"/>
<text x="171" y="432.54" font-size="8.6" fill="#0000ff" stroke="#0000ff" stroke-width="0.27" text-anchor="middle">N</text>
<rect x="132.82" y="465.43" width="7.77" height="8.54" fill="#fff"/>
<text x="136.7" y="473.04" font-size="8.6" fill="#ff0000" stroke="#ff0000" stroke-width="0.27" text-anchor="middle" transform="translate(136.7 0) scale(0.83 1) translate(-136.7 0)">O</text>
<rect x="184.91" y="433.63" width="6.98" height="8.54" fill="#fff"/>
<text x="188.4" y="441.64" font-size="8.6" fill="#000000" stroke="#000000" stroke-width="0.27" text-anchor="middle">R</text>
<rect x="168.81" y="464.73" width="6.98" height="8.54" fill="#fff"/>
<text x="172.3" y="472.74" font-size="8.6" fill="#000000" stroke="#000000" stroke-width="0.27" text-anchor="middle">R</text>
<text x="119" y="428.2" font-size="7.5" fill="#000000" stroke="#000000" stroke-width="0.36" text-anchor="start" letter-spacing="0" textLength="33.8" lengthAdjust="spacing">Lys117B</text>
<rect x="239.37" y="408.03" width="7.47" height="8.54" fill="#fff"/>
<text x="243.1" y="416.04" font-size="8.6" fill="#0000ff" stroke="#0000ff" stroke-width="0.27" text-anchor="middle">H</text>
<rect x="238.28" y="423.23" width="7.43" height="8.54" fill="#fff"/>
<text x="242" y="431.24" font-size="8.6" fill="#0000ff" stroke="#0000ff" stroke-width="0.27" text-anchor="middle">N</text>
<rect x="196.62" y="457.73" width="7.77" height="8.54" fill="#fff"/>
<text x="200.5" y="465.34" font-size="8.6" fill="#ff0000" stroke="#ff0000" stroke-width="0.27" text-anchor="middle" transform="translate(200.5 0) scale(0.83 1) translate(-200.5 0)">O</text>
<rect x="253.51" y="435.13" width="6.98" height="8.54" fill="#fff"/>
<text x="257" y="443.14" font-size="8.6" fill="#000000" stroke="#000000" stroke-width="0.27" text-anchor="middle">R</text>
<rect x="232.71" y="463.03" width="6.98" height="8.54" fill="#fff"/>
<text x="236.2" y="471.04" font-size="8.6" fill="#000000" stroke="#000000" stroke-width="0.27" text-anchor="middle">R</text>
<text x="194" y="421.3" font-size="7.5" fill="#000000" stroke="#000000" stroke-width="0.36" text-anchor="start" letter-spacing="0" textLength="24.2" lengthAdjust="spacing">Ile15B</text>
<rect x="316.87" y="399.13" width="7.47" height="8.54" fill="#fff"/>
<text x="320.6" y="407.14" font-size="8.6" fill="#0000ff" stroke="#0000ff" stroke-width="0.27" text-anchor="middle">H</text>
<rect x="324.88" y="412.43" width="7.43" height="8.54" fill="#fff"/>
<text x="328.6" y="420.44" font-size="8.6" fill="#0000ff" stroke="#0000ff" stroke-width="0.27" text-anchor="middle">N</text>
<rect x="284.32" y="446.93" width="7.77" height="8.54" fill="#fff"/>
<text x="288.2" y="454.54" font-size="8.6" fill="#ff0000" stroke="#ff0000" stroke-width="0.27" text-anchor="middle" transform="translate(288.2 0) scale(0.83 1) translate(-288.2 0)">O</text>
<rect x="345.71" y="412.43" width="6.98" height="8.54" fill="#fff"/>
<text x="349.2" y="420.44" font-size="8.6" fill="#000000" stroke="#000000" stroke-width="0.27" text-anchor="middle">R</text>
<rect x="284.51" y="412.33" width="6.98" height="8.54" fill="#fff"/>
<text x="288" y="420.34" font-size="8.6" fill="#000000" stroke="#000000" stroke-width="0.27" text-anchor="middle">R</text>
<text x="315.4" y="460.2" font-size="7.5" fill="#000000" stroke="#000000" stroke-width="0.36" text-anchor="start" letter-spacing="0" textLength="28.2" lengthAdjust="spacing">Ser14B</text>
<rect x="392.47" y="368.23" width="7.47" height="8.54" fill="#fff"/>
<text x="396.2" y="376.24" font-size="8.6" fill="#0000ff" stroke="#0000ff" stroke-width="0.27" text-anchor="middle">H</text>
<rect x="403.88" y="378.93" width="7.43" height="8.54" fill="#fff"/>
<text x="407.6" y="386.94" font-size="8.6" fill="#0000ff" stroke="#0000ff" stroke-width="0.27" text-anchor="middle">N</text>
<rect x="373.62" y="424.43" width="7.77" height="8.54" fill="#fff"/>
<text x="377.5" y="432.04" font-size="8.6" fill="#ff0000" stroke="#ff0000" stroke-width="0.27" text-anchor="middle" transform="translate(377.5 0) scale(0.83 1) translate(-377.5 0)">O</text>
<rect x="423.51" y="373.33" width="6.98" height="8.54" fill="#fff"/>
<text x="427" y="381.34" font-size="8.6" fill="#000000" stroke="#000000" stroke-width="0.27" text-anchor="middle">R</text>
<rect x="364.61" y="389.83" width="6.98" height="8.54" fill="#fff"/>
<text x="368.1" y="397.84" font-size="8.6" fill="#000000" stroke="#000000" stroke-width="0.27" text-anchor="middle">R</text>
<text x="403.9" y="425.4" font-size="7.5" fill="#000000" stroke="#000000" stroke-width="0.36" text-anchor="start" letter-spacing="0" textLength="27.8" lengthAdjust="spacing">Ser94B</text>
<rect x="328.78" y="155.03" width="7.43" height="8.54" fill="#fff"/>
<text x="332.5" y="163.04" font-size="8.6" fill="#0000ff" stroke="#0000ff" stroke-width="0.27" text-anchor="middle">N</text>
<rect x="329.57" y="171.33" width="7.47" height="8.54" fill="#fff"/>
<text x="333.3" y="179.34" font-size="8.6" fill="#0000ff" stroke="#0000ff" stroke-width="0.27" text-anchor="middle">H</text>
<rect x="294.42" y="177.53" width="7.77" height="8.54" fill="#fff"/>
<text x="298.3" y="185.14" font-size="8.6" fill="#ff0000" stroke="#ff0000" stroke-width="0.27" text-anchor="middle" transform="translate(298.3 0) scale(0.83 1) translate(-298.3 0)">O</text>
<rect x="276.51" y="147.03" width="6.98" height="8.54" fill="#fff"/>
<text x="280" y="155.04" font-size="8.6" fill="#000000" stroke="#000000" stroke-width="0.27" text-anchor="middle">R</text>
<rect x="347.41" y="145.33" width="6.98" height="8.54" fill="#fff"/>
<text x="350.9" y="153.34" font-size="8.6" fill="#000000" stroke="#000000" stroke-width="0.27" text-anchor="middle">R</text>
<text x="301.4" y="129.3" font-size="7.5" fill="#000000" stroke="#000000" stroke-width="0.36" text-anchor="start" letter-spacing="0" textLength="27.6" lengthAdjust="spacing">His37B</text>
<rect x="351.71" y="145.13" width="8.98" height="10.54" fill="#fff"/>
<text x="356.2" y="154.14" font-size="8.6" fill="#000000" stroke="#000000" stroke-width="0.27" text-anchor="middle">R</text>
<rect x="364.48" y="162.03" width="7.43" height="8.54" fill="#fff"/>
<text x="368.2" y="170.04" font-size="8.6" fill="#0000ff" stroke="#0000ff" stroke-width="0.27" text-anchor="middle">N</text>
<rect x="358.37" y="176.53" width="7.47" height="8.54" fill="#fff"/>
<text x="362.1" y="184.54" font-size="8.6" fill="#0000ff" stroke="#0000ff" stroke-width="0.27" text-anchor="middle">H</text>
<rect x="412.42" y="138.23" width="7.77" height="8.54" fill="#fff"/>
<text x="416.3" y="145.84" font-size="8.6" fill="#ff0000" stroke="#ff0000" stroke-width="0.27" text-anchor="middle" transform="translate(416.3 0) scale(0.83 1) translate(-416.3 0)">O</text>
<rect x="381.01" y="125.23" width="6.98" height="8.54" fill="#fff"/>
<text x="384.5" y="133.24" font-size="8.6" fill="#000000" stroke="#000000" stroke-width="0.27" text-anchor="middle">R</text>
<text x="408" y="185.14" font-size="8.6" fill="#000000" stroke="#000000" stroke-width="0.27" text-anchor="middle">R</text>
<text x="386.1" y="187.7" font-size="7.5" fill="#000000" stroke="#000000" stroke-width="0.36" text-anchor="start" letter-spacing="0" textLength="29.4" lengthAdjust="spacing">Asn39B</text>
<rect x="404.58" y="198.73" width="7.43" height="8.54" fill="#fff"/>
<text x="408.3" y="206.74" font-size="8.6" fill="#0000ff" stroke="#0000ff" stroke-width="0.27" text-anchor="middle">N</text>
<rect x="390.57" y="205.23" width="7.47" height="8.54" fill="#fff"/>
<text x="394.3" y="213.24" font-size="8.6" fill="#0000ff" stroke="#0000ff" stroke-width="0.27" text-anchor="middle">H</text>
<rect x="438.62" y="238.93" width="7.77" height="8.54" fill="#fff"/>
<text x="442.5" y="246.54" font-size="8.6" fill="#ff0000" stroke="#ff0000" stroke-width="0.27" text-anchor="middle" transform="translate(442.5 0) scale(0.83 1) translate(-442.5 0)">O</text>
<rect x="404.11" y="238.23" width="6.98" height="8.54" fill="#fff"/>
<text x="407.6" y="246.24" font-size="8.6" fill="#000000" stroke="#000000" stroke-width="0.27" text-anchor="middle">R</text>
<text x="429.8" y="201.3" font-size="7.5" fill="#000000" stroke="#000000" stroke-width="0.36" text-anchor="start" letter-spacing="0" textLength="28.2" lengthAdjust="spacing">Ser38B</text>
<rect x="269.32" y="206.33" width="7.77" height="8.54" fill="#fff"/>
<text x="273.2" y="213.94" font-size="8.6" fill="#ff0000" stroke="#ff0000" stroke-width="0.27" text-anchor="middle" transform="translate(273.2 0) scale(0.83 1) translate(-273.2 0)">O</text>
<rect x="283.57" y="211.13" width="7.47" height="8.54" fill="#fff"/>
<text x="287.3" y="219.14" font-size="8.6" fill="#ff0000" stroke="#ff0000" stroke-width="0.27" text-anchor="middle">H</text>
<text x="235.6" y="185.3" font-size="7.5" fill="#000000" stroke="#000000" stroke-width="0.36" text-anchor="start" letter-spacing="0" textLength="27.9" lengthAdjust="spacing">Thr12B</text>
<rect x="478.87" y="229.73" width="7.47" height="8.54" fill="#fff"/>
<text x="482.6" y="237.74" font-size="8.6" fill="#ff0000" stroke="#ff0000" stroke-width="0.27" text-anchor="middle">H</text>
<rect x="490.52" y="220.03" width="7.77" height="8.54" fill="#fff"/>
<text x="494.4" y="227.64" font-size="8.6" fill="#ff0000" stroke="#ff0000" stroke-width="0.27" text-anchor="middle" transform="translate(494.4 0) scale(0.83 1) translate(-494.4 0)">O</text>
<text x="499.8" y="241.8" font-size="7.5" fill="#000000" stroke="#000000" stroke-width="0.36" text-anchor="start" letter-spacing="0" textLength="28.2" lengthAdjust="spacing">Ser97B</text>
<text x="72.5" y="260" font-size="7.5" fill="#1a9850" stroke="#1a9850" stroke-width="0.36" text-anchor="start" letter-spacing="0" textLength="34.2" lengthAdjust="spacing">Asp142B</text>
<text x="83.2" y="277.7" font-size="7.5" fill="#1a9850" stroke="#1a9850" stroke-width="0.36" text-anchor="start" letter-spacing="0" textLength="24.2" lengthAdjust="spacing">Ile15B</text>
<text x="190.9" y="375" font-size="7.5" fill="#1a9850" stroke="#1a9850" stroke-width="0.36" text-anchor="start" letter-spacing="0" textLength="27.6" lengthAdjust="spacing">Ser94B</text>
<text x="203.1" y="388" font-size="7.5" fill="#1a9850" stroke="#1a9850" stroke-width="0.36" text-anchor="start" letter-spacing="0" textLength="27.9" lengthAdjust="spacing">Val93B</text>
<text x="390.2" y="363" font-size="7.5" fill="#1a9850" stroke="#1a9850" stroke-width="0.36" text-anchor="start" letter-spacing="0" textLength="27.6" lengthAdjust="spacing">His37B</text></g>
<text y="584.6" font-size="34.3" fill="#000"><tspan x="14.2">3a14:N</tspan></text><text transform="translate(137.6 584.6) scale(1.125 1)" font-size="34.3" fill="#000">D</text><text transform="translate(166.9 584.6) scale(0.9 1)" font-size="34.3" fill="#000">P</text>
</svg>
</body></html>
